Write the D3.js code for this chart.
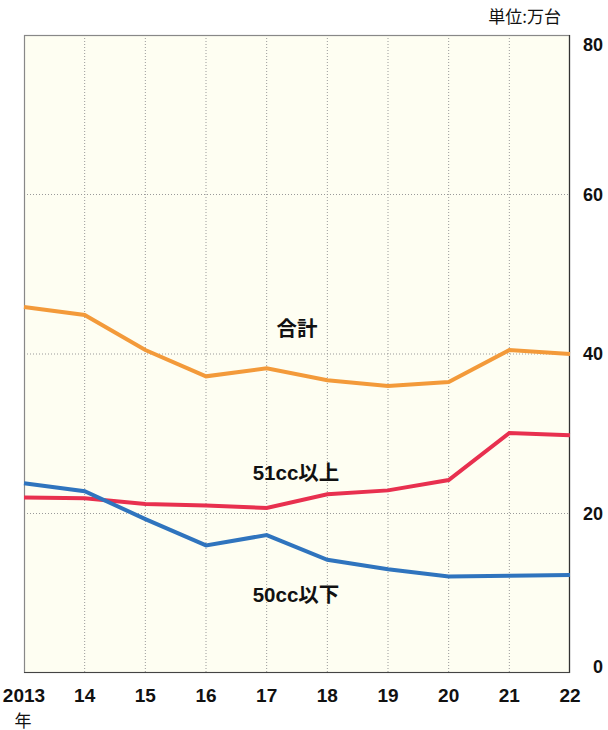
<!DOCTYPE html>
<html><head><meta charset="utf-8">
<script src="https://cdn.jsdelivr.net/npm/d3@7"></script>
<style>
body{margin:0;background:#fff;}
svg{display:block;font-family:"Liberation Sans",Arial,"Noto Sans CJK JP",sans-serif;}
</style></head>
<body>
<svg id="c" width="608" height="730"></svg>
<script>
const years = [2013,2014,2015,2016,2017,2018,2019,2020,2021,2022];
const yearLabels = ["2013","14","15","16","17","18","19","20","21","22"];
const total = [45.9,44.9,40.5,37.2,38.2,36.7,36.0,36.5,40.5,40.0];
const over51 = [22.0,21.9,21.2,21.0,20.7,22.4,22.9,24.2,30.1,29.8];
const under50 = [23.8,22.8,19.3,16.0,17.3,14.2,13.0,12.1,12.2,12.3];
const yTicks = [0,20,40,60,80];
const seriesNames = ["合計","51cc以上","50cc以下"];

const svg = d3.select("#c");
const L=24, R=570, T=35, B=673;
const x = d3.scaleLinear().domain([2013,2022]).range([L,R]);
const y = d3.scaleLinear().domain([0,80]).range([B,T]);

svg.append("rect").attr("x",L).attr("y",T).attr("width",R-L).attr("height",B-T).attr("fill","#fefef2");

// grid
svg.append("g").selectAll("line").data(years.slice(1,-1)).join("line")
  .attr("x1",d=>x(d)).attr("x2",d=>x(d)).attr("y1",T).attr("y2",B)
  .attr("stroke","#9a9a9a").attr("stroke-width",1).attr("stroke-dasharray","1,2");
svg.append("g").selectAll("line").data(yTicks.slice(1,-1)).join("line")
  .attr("x1",L).attr("x2",R).attr("y1",d=>y(d)).attr("y2",d=>y(d))
  .attr("stroke","#9a9a9a").attr("stroke-width",1).attr("stroke-dasharray","1,2");

// border
svg.append("rect").attr("x",L+0.5).attr("y",T+0.5).attr("width",R-L-1).attr("height",B-T-1)
  .attr("fill","none").attr("stroke","#888").attr("stroke-width",1.2);
svg.append("line").attr("x1",R-0.5).attr("x2",R-0.5).attr("y1",T).attr("y2",B).attr("stroke","#333").attr("stroke-width",1.2);
svg.append("line").attr("x1",L).attr("x2",R).attr("y1",B-0.5).attr("y2",B-0.5).attr("stroke","#444").attr("stroke-width",1.2);

const line = d3.line().x((d,i)=>x(years[i])).y(d=>y(d));
const series = [[total,"#f39a3a"],[over51,"#e8304f"],[under50,"#2f74be"]];
svg.append("g").selectAll("path").data(series).join("path")
  .attr("d",d=>line(d[0])).attr("fill","none").attr("stroke",d=>d[1])
  .attr("stroke-width",4).attr("stroke-linejoin","miter");

// series labels
const labelPos = [[297,328],[296,472],[296,594]];
svg.append("g").selectAll("text").data(seriesNames).join("text")
  .attr("x",(d,i)=>labelPos[i][0]).attr("y",(d,i)=>labelPos[i][1])
  .attr("text-anchor","middle").attr("dominant-baseline","central")
  .attr("font-size",20.5).attr("font-weight","bold").attr("fill","#111").text(d=>d);

// y tick labels (right)
svg.append("g").selectAll("text").data(yTicks).join("text")
  .attr("x",603).attr("y",d=>Math.min(Math.max(y(d),T+10),B-6))
  .attr("text-anchor","end").attr("dominant-baseline","central")
  .attr("font-size",18).attr("font-weight","bold").attr("fill","#111").text(d=>d);

// x tick labels
svg.append("g").selectAll("text").data(years).join("text")
  .attr("x",d=>x(d)).attr("y",695)
  .attr("text-anchor","middle").attr("dominant-baseline","central")
  .attr("font-size",19).attr("font-weight","bold").attr("fill","#111").text((d,i)=>yearLabels[i]);
svg.append("text").attr("x",x(2013)-1).attr("y",719).attr("text-anchor","middle").attr("dominant-baseline","central")
  .attr("font-size",17).attr("fill","#111").attr("font-family","Noto Sans CJK JP").text("年");

svg.append("text").attr("x",561).attr("y",15).attr("text-anchor","end").attr("dominant-baseline","central")
  .attr("font-size",17).attr("fill","#111").attr("font-family","Noto Sans CJK JP").text("単位:万台");
</script>
</body></html>
